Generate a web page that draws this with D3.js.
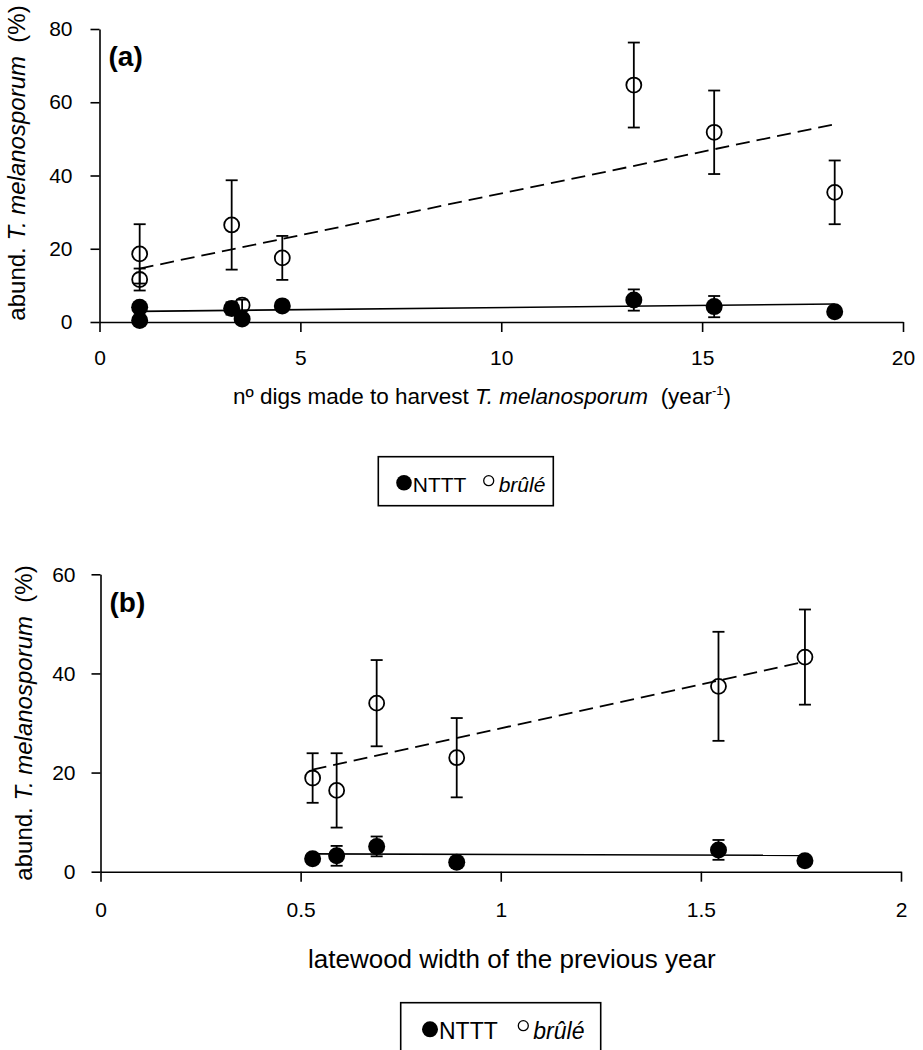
<!DOCTYPE html>
<html>
<head>
<meta charset="utf-8">
<script src="https://cdn.jsdelivr.net/npm/d3@7"></script>
<style>
    body { margin: 0; background: #fff; }
    text { font-family: "Liberation Sans", Arial, sans-serif; fill: #000; }
</style>
</head>
<body>
<div id="chart"></div>
<script>
// panel (a): digs made to harvest
const digsX = [1, 1, 3.29, 3.55, 4.55, 13.3, 15.3, 18.3];
const digsNTTT = [4.0, 0.4, 3.7, 0.8, 4.4, 6.0, 4.2, 2.8];
const digsNTTTErr = [0.8, 0.5, 1.7, 0.5, 1.0, 2.9, 2.9, 0.8];
const digsBrule = [18.6, 11.6, 26.5, 4.6, 17.5, 64.7, 51.8, 35.4];
const digsBruleErr = [8.1, 3.0, 12.2, 1.5, 6.0, 11.6, 11.4, 8.7];
const digsTrendNTTT = [[1, 2.9], [18.3, 4.9]];
const digsTrendBrule = [[1, 14.6], [18.3, 54.0]];
const digsXTicks = [0, 5, 10, 15, 20];
const digsYTicks = [0, 20, 40, 60, 80];

// panel (b): latewood width
const lateX = [0.53, 0.59, 0.69, 0.89, 1.544, 1.76];
const lateNTTT = [2.6, 3.2, 5.1, 1.9, 4.4, 2.2];
const lateNTTTErr = [0.8, 2.0, 2.0, 0.5, 2.0, 0.5];
const lateBrule = [18.9, 16.4, 34.0, 23.0, 37.4, 43.3];
const lateBruleErr = [5.0, 7.5, 8.7, 8.0, 11.0, 9.6];
const lateTrendNTTT = [[0.53, 3.6], [1.76, 3.3]];
const lateTrendBrule = [[0.53, 20.6], [1.76, 42.4]];
const lateXTicks = [0, 0.5, 1, 1.5, 2];
const lateYTicks = [0, 20, 40, 60];

const seriesNames = ["NTTT", "brûlé"];

var svg = d3.select("#chart")
    .append("svg")
    .attr("width", 923)
    .attr("height", 1050);

function drawPanel(p) {
    var g = svg.append("g");

    var x = d3.scaleLinear().domain(p.xDomain).range(p.xRange);
    var y = d3.scaleLinear().domain(p.yDomain).range(p.yRange);

    // X axis
    var xa = g.append("g")
        .attr("transform", "translate(0," + p.yRange[0] + ")")
        .call(d3.axisBottom(x).tickValues(p.xTicks).tickSize(10).tickSizeOuter(0)
            .tickPadding(p.xPad).tickFormat(d3.format("~g")));
    // Y axis
    var ya = g.append("g")
        .attr("transform", "translate(" + p.xRange[0] + ",0)")
        .call(d3.axisLeft(y).tickValues(p.yTicks).tickSize(9).tickSizeOuter(0)
            .tickPadding(p.yPad));
    [xa, ya].forEach(a => {
        a.selectAll("path, line").attr("stroke", "#000").attr("stroke-width", 1.6);
        a.selectAll("text").attr("font-size", 21).attr("font-family", "Liberation Sans, Arial, sans-serif");
    });

    var pts = d3.range(p.xs.length);

    // error bars, brûlé then NTTT
    [[p.brule, p.bruleErr], [p.nttt, p.ntttErr]].forEach(s => {
        var eb = g.append("g").attr("stroke", "#000").attr("stroke-width", 1.8);
        eb.selectAll("line.v").data(pts).join("line")
            .attr("x1", i => x(p.xs[i])).attr("x2", i => x(p.xs[i]))
            .attr("y1", i => y(s[0][i] + s[1][i])).attr("y2", i => y(s[0][i] - s[1][i]));
        eb.selectAll("line.t").data(pts).join("line")
            .attr("x1", i => x(p.xs[i]) - 6).attr("x2", i => x(p.xs[i]) + 6)
            .attr("y1", i => y(s[0][i] + s[1][i])).attr("y2", i => y(s[0][i] + s[1][i]));
        eb.selectAll("line.b").data(pts).join("line")
            .attr("x1", i => x(p.xs[i]) - 6).attr("x2", i => x(p.xs[i]) + 6)
            .attr("y1", i => y(s[0][i] - s[1][i])).attr("y2", i => y(s[0][i] - s[1][i]));
    });

    // trend lines
    var line = d3.line().x(d => x(d[0])).y(d => y(d[1]));
    g.append("path")
        .datum(p.trendBrule)
        .attr("fill", "none")
        .attr("stroke", "#000")
        .attr("stroke-width", 1.8)
        .attr("stroke-dasharray", "14,7")
        .attr("d", line);
    g.append("path")
        .datum(p.trendNTTT)
        .attr("fill", "none")
        .attr("stroke", "#000")
        .attr("stroke-width", 1.6)
        .attr("d", line);

    // open circles
    g.append("g")
        .selectAll("circle")
        .data(pts)
        .join("circle")
        .attr("cx", i => x(p.xs[i]))
        .attr("cy", i => y(p.brule[i]))
        .attr("r", 7.5)
        .attr("fill", "none")
        .attr("stroke", "#000")
        .attr("stroke-width", 1.8);

    // filled circles
    g.append("g")
        .selectAll("circle")
        .data(pts)
        .join("circle")
        .attr("cx", i => x(p.xs[i]))
        .attr("cy", i => y(p.nttt[i]))
        .attr("r", 8.5)
        .attr("fill", "#000");

    // panel letter
    g.append("text")
        .attr("x", p.xRange[0] + 9)
        .attr("y", p.yRange[1] + p.letterDy)
        .attr("font-size", 28)
        .attr("font-weight", "bold")
        .text(p.letter);

    // y title
    var yt = g.append("text")
        .attr("transform", "translate(" + p.yTitleX + "," + p.yTitleY + ") rotate(-90)")
        .attr("text-anchor", "middle")
        .attr("font-size", 24);
    yt.append("tspan").text("abund. ");
    yt.append("tspan").attr("font-style", "italic").text("T. melanosporum");
    yt.append("tspan").attr("xml:space", "preserve").text("  (%)");

    return g;
}

var ga = drawPanel({
    xs: digsX, nttt: digsNTTT, ntttErr: digsNTTTErr, brule: digsBrule, bruleErr: digsBruleErr,
    trendNTTT: digsTrendNTTT, trendBrule: digsTrendBrule,
    xDomain: [0, 20], xRange: [99.5, 903], yDomain: [0, 80], yRange: [322, 29],
    xTicks: digsXTicks, yTicks: digsYTicks, xPad: 18, yPad: 18,
    letter: "(a)", letterDy: 37, yTitleX: 25, yTitleY: 163
});

var gb = drawPanel({
    xs: lateX, nttt: lateNTTT, ntttErr: lateNTTTErr, brule: lateBrule, bruleErr: lateBruleErr,
    trendNTTT: lateTrendNTTT, trendBrule: lateTrendBrule,
    xDomain: [0, 2], xRange: [100.5, 901], yDomain: [0, 60], yRange: [871.7, 574.3],
    xTicks: lateXTicks, yTicks: lateYTicks, xPad: 20, yPad: 16,
    letter: "(b)", letterDy: 38, yTitleX: 32, yTitleY: 723
});

// x titles
var ta = svg.append("text").attr("x", 233).attr("y", 404).attr("font-size", 22.5);
ta.append("tspan").text("nº digs made to harvest ");
ta.append("tspan").attr("font-style", "italic").text("T. melanosporum");
ta.append("tspan").attr("xml:space", "preserve").text("  (year");
ta.append("tspan").attr("font-size", 13).attr("dy", -9).text("-1");
ta.append("tspan").attr("dy", 9).text(")");

svg.append("text").attr("x", 308).attr("y", 968).attr("font-size", 26)
    .text("latewood width of the previous year");

// legends
function legend(box, fs, c1, c2) {
    svg.append("rect")
        .attr("x", box[0]).attr("y", box[1]).attr("width", box[2]).attr("height", box[3])
        .attr("fill", "none").attr("stroke", "#000").attr("stroke-width", 1.6);
    svg.append("circle").attr("cx", c1[0]).attr("cy", c1[1]).attr("r", c1[2]).attr("fill", "#000");
    svg.append("text").attr("x", c1[0] + c1[2] + 1).attr("y", c1[3]).attr("font-size", fs).text(seriesNames[0]);
    svg.append("circle").attr("cx", c2[0]).attr("cy", c2[1]).attr("r", c2[2])
        .attr("fill", "none").attr("stroke", "#000").attr("stroke-width", 1.3);
    svg.append("text").attr("x", c2[0] + c2[2] + 5).attr("y", c2[3]).attr("font-size", fs)
        .attr("font-style", "italic").text(seriesNames[1]);
}
legend([378.3, 456.7, 175, 49], 21, [404, 482.7, 7.8, 491.7], [488.7, 480.7, 5, 491.7]);
legend([400.7, 1002.7, 200, 60], 23, [430, 1029.3, 8, 1039.3], [523.3, 1025.7, 5, 1039.3]);
</script>
</body>
</html>
